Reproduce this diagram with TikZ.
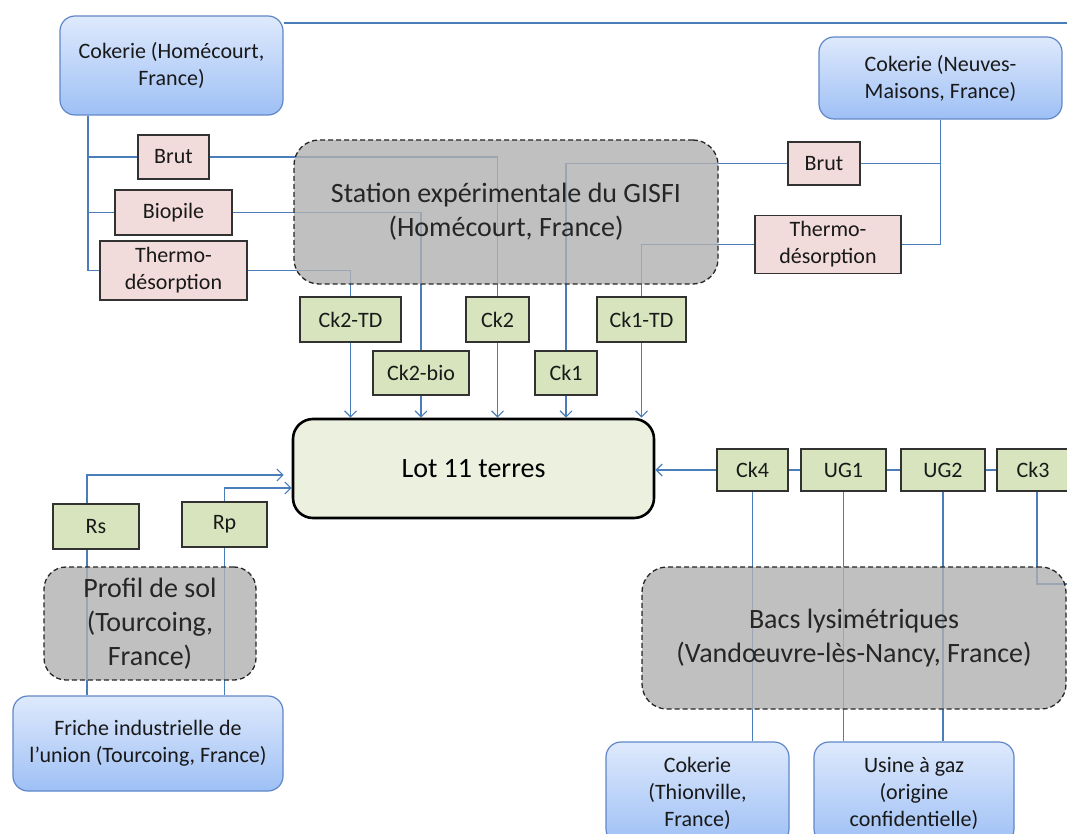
\documentclass[tikz,border=0pt]{standalone}
\usepackage{fontspec}
\setmainfont{Carlito}
\usetikzlibrary{arrows.meta,calc}
\definecolor{lineblue}{RGB}{74,126,187}
\definecolor{bluetop}{RGB}{222,233,252}
\definecolor{bluebot}{RGB}{158,192,245}
\definecolor{blueborder}{RGB}{95,135,200}
\definecolor{pinkfill}{RGB}{242,220,219}
\definecolor{greenfill}{RGB}{215,228,189}
\definecolor{lotfill}{RGB}{235,241,222}
\definecolor{grayfill}{RGB}{176,176,176}
\definecolor{boxborder}{RGB}{50,50,50}
\pgfdeclarelayer{lines}
\pgfsetlayers{lines,main}
\tikzset{
  small/.style={font=\fontsize{22}{27}\selectfont},
  big/.style={font=\fontsize{28}{34}\selectfont},
  source/.style={small, draw=blueborder, line width=1.2pt, rounded corners=15pt,
    top color=bluetop, bottom color=bluebot, align=center, inner sep=0pt, text=black!90},
  pinkbox/.style={small, draw=boxborder, line width=1.3pt, fill=pinkfill, align=center, inner sep=0pt, text=black!90},
  greenbox/.style={small, draw=boxborder, line width=1.3pt, fill=greenfill, align=center, inner sep=0pt, text=black!90},
  site/.style={big, draw=black!85, line width=1.3pt, dash pattern=on 5pt off 3pt,
    fill=grayfill, fill opacity=0.8, text opacity=1, align=center, inner sep=0pt, text=black!85},
  lotbox/.style={big, draw=black, line width=2.6pt, fill=lotfill, rounded corners=20pt, inner sep=0pt},
  ln/.style={draw=lineblue, line width=1.3pt},
  arr/.style={ln, -{Straight Barb[length=6pt,width=12pt,line width=1.2pt]}},
}
\begin{document}
\begin{tikzpicture}[x=1pt,y=-1pt]
\useasboundingbox (0,0) rectangle (1067,834);
% sources
\node[source, minimum width=223, minimum height=99] (cokH) at (171.5,65.5) {Cokerie (Homécourt,\\France)};
\node[source, minimum width=243, minimum height=82] (cokN) at (940.5,78) {Cokerie (Neuves-\\Maisons, France)};
\node[source, minimum width=270, minimum height=95] (friche) at (148,743.5) {Friche industrielle de\\l’union (Tourcoing, France)};
\node[source, minimum width=183, minimum height=102] (cokT) at (697.5,793) {Cokerie\\(Thionville,\\France)};
\node[source, minimum width=200, minimum height=102] (usine) at (914,793) {Usine à gaz\\(origine\\confidentielle)};
% treatments
\node[pinkbox, minimum width=71, minimum height=44] (brutL) at (173.5,157) {Brut};
\node[pinkbox, minimum width=117, minimum height=45] (bioL) at (173.5,212.5) {Biopile};
\node[pinkbox, minimum width=147, minimum height=59] (thL) at (173.5,270.5) {Thermo-\\désorption};
\node[pinkbox, minimum width=72, minimum height=43] (brutR) at (824,163.5) {Brut};
\node[pinkbox, minimum width=146, minimum height=58] (thR) at (828,244.5) {Thermo-\\désorption};
% sites
\node[site, rounded corners=25pt, minimum width=424, minimum height=144] (gisfi) at (506,212) {Station expérimentale du GISFI\\(Homécourt, France)};
\node[site, rounded corners=22pt, minimum width=212, minimum height=113] (profil) at (150,623.5) {Profil de sol\\(Tourcoing,\\France)};
\node[site, rounded corners=25pt, minimum width=424, minimum height=142] (bacs) at (854,638) {Bacs lysimétriques\\(Vandœuvre-lès-Nancy, France)};
% samples
\node[greenbox, minimum width=101, minimum height=45] (ck2td) at (350.5,319.5) {Ck2-TD};
\node[greenbox, minimum width=96, minimum height=44] (ck2bio) at (421,373) {Ck2-bio};
\node[greenbox, minimum width=63, minimum height=45] (ck2) at (497.5,319.5) {Ck2};
\node[greenbox, minimum width=62, minimum height=44] (ck1) at (566,373) {Ck1};
\node[greenbox, minimum width=89, minimum height=45] (ck1td) at (641.5,319.5) {Ck1-TD};
\node[greenbox, minimum width=86, minimum height=45] (rs) at (96,526.5) {Rs};
\node[greenbox, minimum width=85, minimum height=45] (rp) at (224.5,524.5) {Rp};
\node[greenbox, minimum width=71, minimum height=42] (ck4) at (752.5,470) {Ck4};
\node[greenbox, minimum width=85, minimum height=42] (ug1) at (843.5,470) {UG1};
\node[greenbox, minimum width=84, minimum height=42] (ug2) at (943,470) {UG2};
\node[greenbox, minimum width=72, minimum height=42] (ck3) at (1033,470) {Ck3};
% lot
\node[lotbox, minimum width=361, minimum height=99] (lot) at (473.5,468.5) {Lot 11 terres};
% free ends
\coordinate (topEnd) at (1067,23);
\coordinate (trunkL) at (88,270.5);
\coordinate (trunkR) at (940.5,244.5);
\coordinate (rsX) at (87,0);
\coordinate (ck3X) at (1037,0);
\coordinate (ck3End) at (1067,584);
\begin{pgfonlayer}{lines}
\draw[ln] (cokH.east |- topEnd) -- (topEnd);
\draw[ln] (cokH.south -| trunkL) -- (trunkL) -- (thL.west);
\draw[ln] (brutL.west -| trunkL) -- (brutL.west);
\draw[ln] (bioL.west -| trunkL) -- (bioL.west);
\draw[ln] (brutL.east) -| (ck2.north);
\draw[ln] (bioL.east) -| (ck2bio.north);
\draw[ln] (thL.east) -| (ck2td.north);
\draw[ln] (cokN.south) -- (trunkR) -- (thR.east);
\draw[ln] (brutR.east -| trunkR) -- (brutR.east);
\draw[ln] (brutR.west) -| (ck1.north);
\draw[ln] (thR.west) -| (ck1td.north);
\draw[arr] (ck2td.south) -- (ck2td.south |- lot.north);
\draw[arr] (ck2bio.south) -- (ck2bio.south |- lot.north);
\draw[arr] (ck2.south) -- (ck2.south |- lot.north);
\draw[arr] (ck1.south) -- (ck1.south |- lot.north);
\draw[arr] (ck1td.south) -- (ck1td.south |- lot.north);
\draw[arr] (rs.north -| rsX) |- ([xshift=-8pt,yshift=-6.5pt]lot.west);
\draw[arr] (rp.north) |- ([yshift=-19.5pt]lot.west);
\draw[ln] (rs.south -| rsX) -- (friche.north -| rsX);
\draw[ln] (rp.south) -- (rp.south |- friche.north);
\draw[arr] (ck4.west) -- (ck4.west -| lot.east);
\draw[ln] (ck4.east) -- (ug1.west);
\draw[ln] (ug1.east) -- (ug2.west);
\draw[ln] (ug2.east) -- (ck3.west);
\draw[ln] (ck4.south) -- (ck4.south |- cokT.north);
\draw[ln] (ug1.south) -- (ug1.south |- usine.north);
\draw[ln] (ug2.south) -- (ug2.south |- usine.north);
\draw[ln] (ck3.south -| ck3X) |- (ck3End);
\end{pgfonlayer}
\end{tikzpicture}
\end{document}
